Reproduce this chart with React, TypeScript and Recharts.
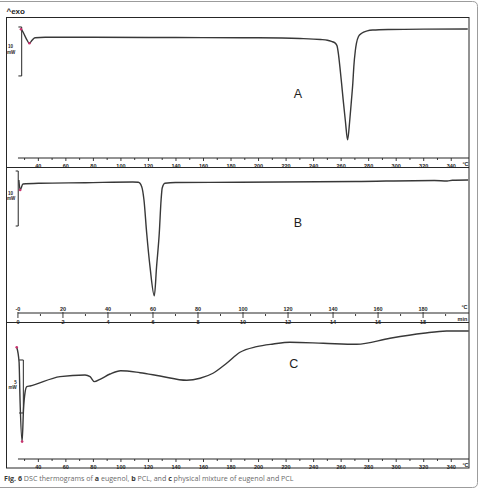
import React from 'react';
import { LineChart, Line, XAxis, YAxis, ReferenceLine, ReferenceDot } from 'recharts';

// A – eugenol (temperature °C, heat flow mW)
const A_TEMP = [27.4, 28.7, 31.1, 33.5, 35.6, 37.6, 45, 80, 120, 160, 200, 230, 245, 250, 253, 255.5, 257, 258, 259.1, 260.3, 261.5, 263.1, 264.7, 266.2, 267.5, 268.5, 269.2, 270.3, 271.1, 272.6, 274.9, 279, 283, 295, 320, 352];
const A_HEAT = [1.78, 1.29, -0.06, -1.08, -0.41, 0.06, 0.14, 0.14, 0.1, 0.08, 0.04, -0.1, -0.3, -0.45, -0.7, -1.0, -1.6, -3.2, -5.9, -9.2, -12.7, -17, -20.8, -17, -12.7, -9.2, -5.9, -2.6, -1.1, 0.3, 0.96, 1.45, 1.63, 1.75, 1.82, 1.84];

// B – PCL
const B_TEMP = [0.4, 1.0, 2.2, 10, 30, 51, 53.5, 55.0, 56.0, 57.2, 58.7, 60.6, 61.6, 62.8, 63.6, 64.1, 65.3, 70, 98.7, 150, 185, 190.7, 193, 200];
const B_HEAT = [0.55, -1.27, -0.18, -0.05, 0.05, 0.18, 0.13, -0.67, -3.1, -9.1, -15.3, -20.5, -15.2, -9.1, -3.1, -0.9, -0.05, 0.1, 0.13, 0.27, 0.45, 0.36, 0.5, 0.55];

// C – physical mixture
const C_TEMP = [24.3, 26.0, 26.7, 28.2, 29.2, 30.3, 31.6, 34, 55.8, 73.9, 77.6, 80.7, 84.8, 92.1, 99.8, 113.9, 128.4, 147.8, 157.5, 166.9, 176.8, 186.5, 198.6, 210.7, 222.8, 247, 271.3, 295.5, 319.7, 336.6, 352.7];
const C_HEAT = [3.65, 2.26, -1.32, -5.25, -2.26, -0.66, -0.07, 0, 0.88, 1.04, 0.88, 0.41, 0.63, 1.13, 1.44, 1.25, 0.94, 0.54, 0.73, 1.2, 2.14, 3.18, 3.71, 3.96, 4.12, 4.03, 3.93, 4.5, 4.97, 5.19, 5.19];

// tick labels
const AC_TICKS = [30, 40, 50, 60, 70, 80, 90, 100, 110, 120, 130, 140, 150, 160, 170, 180, 190, 200, 210, 220, 230, 240, 250, 260, 270, 280, 290, 300, 310, 320, 330, 340];
const B_TICKS = [0, 10, 20, 30, 40, 50, 60, 70, 80, 90, 100, 110, 120, 130, 140, 150, 160, 170, 180, 190];
const B_TEMP_LABELS = ['-0', '20', '40', '60', '80', '100', '120', '140', '160', '180'];
const B_MIN_LABELS = ['0', '2', '4', '6', '8', '10', '12', '14', '16', '18'];

const toRows = (t: number[], h: number[]) => t.map((v, i) => ({ t: v, hf: h[i] }));
const dataA = toRows(A_TEMP, A_HEAT);
const dataB = toRows(B_TEMP, B_HEAT);
const dataC = toRows(C_TEMP, C_HEAT);

const AXIS_FONT = "'Liberation Sans', Arial, sans-serif";
const INK = '#262626';
const CURVE = '#383838';
const MARK = '#c8326e';

const TempTick = (props: any) => {
    const { x, y, payload } = props;
    const v = payload.value;
    const major = v % 20 === 0;
    return (
        <g>
            <line x1={x} x2={x} y1={y - 2} y2={y + (major ? 1 : 0)} stroke={INK} strokeWidth={0.9} />
            {major && (
                <text x={x} y={y + 7.5} textAnchor="middle" fontSize={5.5} fontWeight="bold" fill={INK} fontFamily={AXIS_FONT}>
                    {v}
                </text>
            )}
        </g>
    );
};

const TimeTick = (props: any) => {
    const { x, y, payload } = props;
    const v = payload.value;
    const idx = B_TICKS.filter((t) => t % 20 === 0).indexOf(v);
    const major = idx >= 0;
    return (
        <g>
            <line x1={x} x2={x} y1={y - (major ? 3 : 1)} y2={y + (major ? 3 : 1)} stroke={INK} strokeWidth={0.9} />
            {major && (
                <text x={x} y={y - 4.5} textAnchor="middle" fontSize={5.5} fontWeight="bold" fill={INK} fontFamily={AXIS_FONT}>
                    {B_TEMP_LABELS[idx]}
                </text>
            )}
            {major && (
                <text x={x} y={y + 8.5} textAnchor="middle" fontSize={5.5} fontWeight="bold" fill={INK} fontFamily={AXIS_FONT}>
                    {B_MIN_LABELS[idx]}
                </text>
            )}
        </g>
    );
};

// vertical "10 mW" style bracket, caps to the left
const scaleBar = (key: string, x: number, xCap: number, top: number, bottom: number) => [
    <ReferenceLine key={key + 'v'} segment={[{ x, y: top }, { x, y: bottom }]} stroke={INK} strokeWidth={1} />,
    <ReferenceLine key={key + 't'} segment={[{ x: xCap, y: top }, { x, y: top }]} stroke={INK} strokeWidth={1} />,
    <ReferenceLine key={key + 'b'} segment={[{ x: xCap, y: bottom }, { x, y: bottom }]} stroke={INK} strokeWidth={1} />,
];

const A_X = [16.5, 352.9];
const A_Y = [-24.51, 4.29];
const B_X = [-5.3, 200.4];
const B_Y = [-23.64, 2.545];
const C_Y = [-6.89, 5.94];

export default function App() {
    return (
        <div style={{ position: 'absolute', left: 0, top: 0, width: 479, height: 498, background: '#fff', overflow: 'hidden' }}>
            <style>{`.recharts-surface { overflow: visible; } .recharts-wrapper { overflow: visible; }`}</style>
            <svg width={479} height={498} style={{ position: 'absolute', left: 0, top: 0 }}>
                {/* figure box */}
                <path d="M -3 1.5 H 472.5 Q 477.5 1.5 477.5 6.5 V 482.5 Q 477.5 487.5 472.5 487.5 H -3" fill="none" stroke="#9c9c9c" strokeWidth={1} />
                {/* panel frames */}
                <rect x={6.5} y={17.5} width={462.5} height={450.5} fill="none" stroke={INK} strokeWidth={1} />
                <line x1={6} x2={469} y1={167.5} y2={167.5} stroke={INK} strokeWidth={1} />
                <line x1={6} x2={469} y1={322.5} y2={322.5} stroke={INK} strokeWidth={1} />

                <text x={6.5} y={13.5} fontSize={8} fontWeight="bold" fill={INK} fontFamily={AXIS_FONT}>^exo</text>

                {/* scale bar labels */}
                <g fontSize={4.5} fontWeight="bold" fill={INK} fontFamily={AXIS_FONT} textAnchor="middle">
                    <text x={10.5} y={48}>10</text>
                    <text x={11} y={54}>mW</text>
                    <text x={10.5} y={195}>10</text>
                    <text x={11} y={199.5}>mW</text>
                    <text x={15.5} y={384}>5</text>
                    <text x={12.5} y={389}>mW</text>
                </g>

                {/* axis end units */}
                <g fontSize={5.5} fontWeight="bold" fill={INK} fontFamily={AXIS_FONT} textAnchor="middle">
                    <text x={465.5} y={166}>°C</text>
                    <text x={464.5} y={308.5}>°C</text>
                    <text x={462.5} y={321}>min</text>
                    <text x={465.5} y={467}>°C</text>
                </g>

                {/* panel letters */}
                <g fontSize={12.5} fill="#1e1e1e" fontFamily={AXIS_FONT} textAnchor="middle">
                    <text x={298} y={98.3}>A</text>
                    <text x={298} y={226.7}>B</text>
                    <text x={293.7} y={367.7}>C</text>
                </g>

                <text x={4} y={481} fontSize={7.1} fontFamily="'Open Sans', sans-serif" fill="#6a6a6a">
                    <tspan fontWeight="bold" fill="#3a3a3a">Fig. 6</tspan>
                    {' DSC thermograms of '}
                    <tspan fontWeight="bold" fill="#3a3a3a">a</tspan>
                    {' eugenol, '}
                    <tspan fontWeight="bold" fill="#3a3a3a">b</tspan>
                    {' PCL, and '}
                    <tspan fontWeight="bold" fill="#3a3a3a">c</tspan>
                    {' physical mixture of eugenol and PCL'}
                </text>
            </svg>

            {/* A */}
            <div style={{ position: 'absolute', left: 6, top: 17 }}>
                <LineChart width={463} height={150} data={dataA} margin={{ top: 0, right: 0, bottom: 0, left: 0 }}>
                    <XAxis dataKey="t" type="number" domain={A_X} allowDataOverflow ticks={AC_TICKS} interval={0} tick={(p: any) => <TempTick {...p} />} tickSize={0} tickLine={false} axisLine={false} height={9} />
                    <YAxis hide type="number" domain={A_Y} allowDataOverflow />
                    <ReferenceLine segment={[{ x: 25.2, y: A_Y[0] }, { x: A_X[1], y: A_Y[0] }]} stroke={INK} strokeWidth={1} />
                    {scaleBar('a', 27.9, 25.5, 2.25, -7.75)}
                    <Line type="monotone" dataKey="hf" stroke={CURVE} strokeWidth={1.4} dot={false} isAnimationActive={false} />
                    <ReferenceDot x={A_TEMP[0]} y={A_HEAT[0]} r={1.3} fill={MARK} stroke="none" />
                    <ReferenceDot x={A_TEMP[3]} y={A_HEAT[3]} r={1.3} fill={MARK} stroke="none" />
                </LineChart>
            </div>

            {/* B */}
            <div style={{ position: 'absolute', left: 6, top: 169 }}>
                <LineChart width={463} height={154} data={dataB} margin={{ top: 0, right: 0, bottom: 0, left: 0 }}>
                    <XAxis dataKey="t" type="number" domain={B_X} allowDataOverflow ticks={B_TICKS} interval={0} tick={(p: any) => <TimeTick {...p} />} tickSize={0} tickLine={false} axisLine={false} height={10} />
                    <YAxis hide type="number" domain={B_Y} allowDataOverflow />
                    <ReferenceLine segment={[{ x: 0, y: B_Y[0] }, { x: B_X[1], y: B_Y[0] }]} stroke={INK} strokeWidth={1} />
                    {scaleBar('b', 0.13, -1, 2.18, -7.82)}
                    <Line type="monotone" dataKey="hf" stroke={CURVE} strokeWidth={1.4} dot={false} isAnimationActive={false} />
                    <ReferenceDot x={B_TEMP[1]} y={B_HEAT[1]} r={1.3} fill={MARK} stroke="none" />
                </LineChart>
            </div>

            {/* C */}
            <div style={{ position: 'absolute', left: 6, top: 323 }}>
                <LineChart width={463} height={145} data={dataC} margin={{ top: 0, right: 0, bottom: 0, left: 0 }}>
                    <XAxis dataKey="t" type="number" domain={A_X} allowDataOverflow ticks={AC_TICKS} interval={0} tick={(p: any) => <TempTick {...p} />} tickSize={0} tickLine={false} axisLine={false} height={9} />
                    <YAxis hide type="number" domain={C_Y} allowDataOverflow />
                    <ReferenceLine segment={[{ x: 25.2, y: C_Y[0] }, { x: A_X[1], y: C_Y[0] }]} stroke={INK} strokeWidth={1} />
                    {scaleBar('c', 29.1, 26, 2.45, -2.55)}
                    <Line type="monotone" dataKey="hf" stroke={CURVE} strokeWidth={1.4} dot={false} isAnimationActive={false} />
                    <ReferenceDot x={C_TEMP[0]} y={C_HEAT[0]} r={1.3} fill={MARK} stroke="none" />
                    <ReferenceDot x={C_TEMP[3]} y={C_HEAT[3]} r={1.3} fill={MARK} stroke="none" />
                </LineChart>
            </div>
        </div>
    );
}
